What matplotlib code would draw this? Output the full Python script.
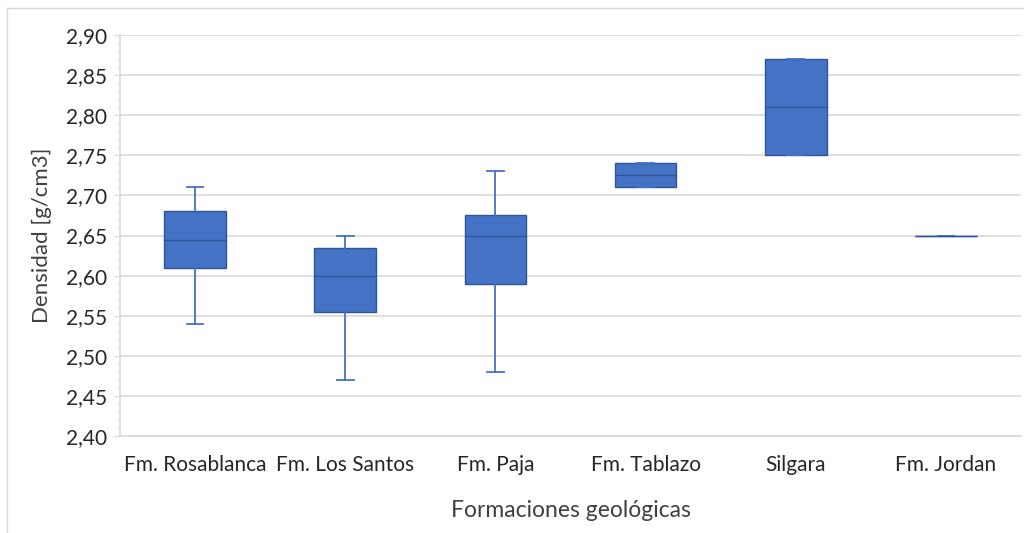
import numpy as np
import matplotlib.pyplot as plt
from matplotlib.lines import Line2D
from matplotlib.ticker import MultipleLocator, FuncFormatter

plt.rcParams['font.family'] = ['Lato', 'DejaVu Sans']

# datos
formaciones = ["Fm. Rosablanca", "Fm. Los Santos", "Fm. Paja", "Fm. Tablazo", "Silgara", "Fm. Jordan"]
minimo = [2.54, 2.47, 2.48, 2.71, 2.75, 2.65]
q1 = [2.61, 2.555, 2.59, 2.71, 2.75, 2.65]
mediana = [2.645, 2.60, 2.65, 2.725, 2.81, 2.65]
q3 = [2.68, 2.635, 2.675, 2.74, 2.87, 2.65]
maximo = [2.71, 2.65, 2.73, 2.74, 2.87, 2.65]

stats = []
for i in range(len(formaciones)):
    stats.append(dict(whislo=minimo[i], q1=q1[i], med=mediana[i], q3=q3[i], whishi=maximo[i], label=formaciones[i]))

azul = "#4472C4"
borde = "#2F5597"
gris = "#D9D9D9"

fig = plt.figure(figsize=(10.24, 5.33), dpi=100)
ax = fig.add_axes([120/1024, 1-436/533, (1021-120)/1024, (436-35)/533])

ax.bxp(stats, positions=np.arange(1, 7), widths=0.41, patch_artist=True, showfliers=False,
       boxprops=dict(facecolor=azul, edgecolor=borde, linewidth=1),
       medianprops=dict(color=borde, linewidth=1),
       whiskerprops=dict(color=azul, linewidth=1.3),
       capprops=dict(color=azul, linewidth=1.3),
       capwidths=0.11)

ax.set_ylim(2.40, 2.90)
ax.set_xlim(0.5, 6.5)
ax.yaxis.set_major_locator(MultipleLocator(0.05))
ax.yaxis.set_minor_locator(MultipleLocator(0.01))
ax.yaxis.set_major_formatter(FuncFormatter(lambda v, p: f"{v:.2f}".replace(".", ",")))
ax.grid(axis="y", color=gris, linewidth=1.2)
ax.set_axisbelow(True)

for s in ["top", "right"]:
    ax.spines[s].set_visible(False)
ax.spines["left"].set_color(gris)
ax.spines["bottom"].set_color(gris)
ax.spines["left"].set_linewidth(1.2)
ax.spines["bottom"].set_linewidth(1.2)

ax.tick_params(axis="y", which="major", length=4.3, color=gris, labelsize=15, labelcolor="#262626", pad=5)
ax.tick_params(axis="y", which="minor", length=2.2, color=gris)
ax.tick_params(axis="x", length=0, labelsize=15, labelcolor="#262626", pad=14)

ax.set_xlabel("Formaciones geológicas", fontsize=16.5, color="#404040", labelpad=18)
ax.set_ylabel("Densidad [g/cm3]", fontsize=16, color="#404040", labelpad=10)

# marco del grafico
fig.add_artist(Line2D([7/1024, 7/1024], [0, 1-8/533], color=gris, linewidth=1))
fig.add_artist(Line2D([7/1024, 1], [1-8/533, 1-8/533], color=gris, linewidth=1))

fig.savefig("out.png", dpi=100)
